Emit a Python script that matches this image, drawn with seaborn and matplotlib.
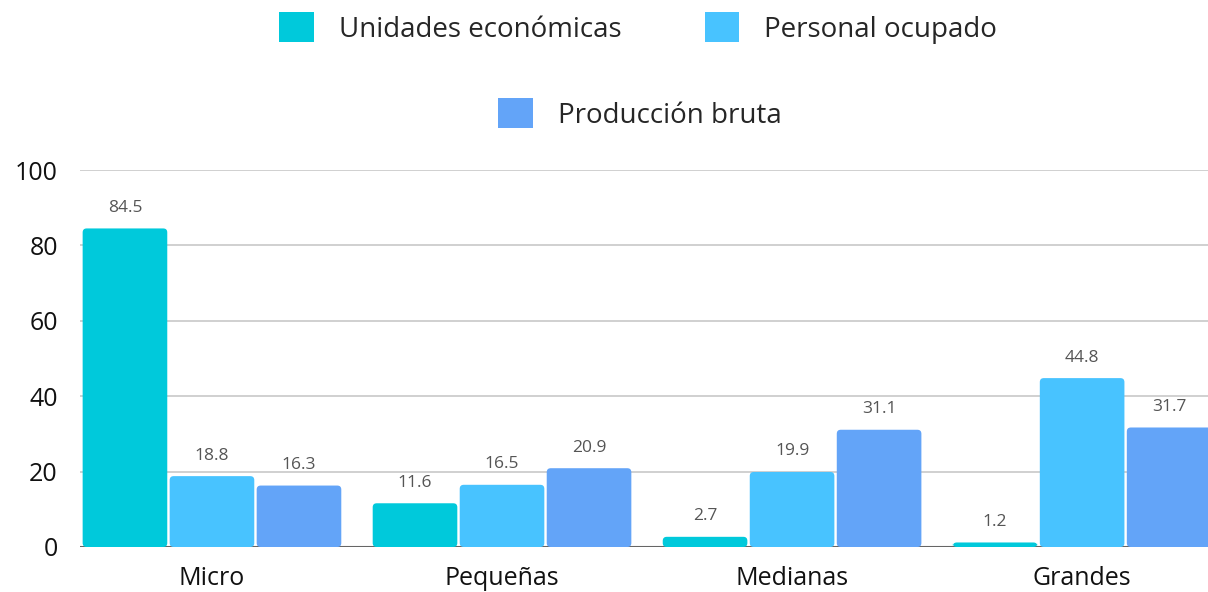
import pandas as pd
import matplotlib.pyplot as plt
import seaborn as sns
from matplotlib.patches import Patch, FancyBboxPatch

# datos
categorias = ["Micro", "Pequeñas", "Medianas", "Grandes"]
series = ["Unidades económicas", "Personal ocupado", "Producción bruta"]
unidades = [84.5, 11.6, 2.7, 1.2]
personal = [18.8, 16.5, 19.9, 44.8]
produccion = [16.3, 20.9, 31.1, 31.7]
colores = ["#00C9DB", "#48C3FF", "#63A4F8"]

df = pd.DataFrame({
    "categoria": categorias * 3,
    "serie": [series[0]] * 4 + [series[1]] * 4 + [series[2]] * 4,
    "valor": unidades + personal + produccion,
})

sns.set_style("white")
plt.rcParams['font.family'] = ['Open Sans', 'DejaVu Sans']

fig = plt.figure(figsize=(12.08, 5.92), dpi=100)
ax = fig.add_axes([80 / 1208, 45 / 592, 1 - 80 / 1208, 377 / 592])

sns.barplot(data=df, x="categoria", y="valor", hue="serie", palette=colores,
            saturation=1, width=0.9, edgecolor="white", linewidth=2.5, ax=ax, legend=False)

ax.set_ylim(0, 100)
ax.set_xlim(-0.455, 3.434)

for c in ax.containers:
    ax.bar_label(c, fmt="%.1f", padding=9, fontsize=12.5, color="#555555")

# esquinas redondeadas
xpx = 3.889 / 1128
ypx = 100 / 377
for p in list(ax.patches):
    x, y, w, h = p.get_x(), p.get_y(), p.get_width(), p.get_height()
    r = FancyBboxPatch((x + 1.2 * xpx, y), w - 2.4 * xpx, h,
                       boxstyle=f"round,pad=0,rounding_size={4 * xpx}",
                       mutation_aspect=ypx / xpx, facecolor=p.get_facecolor(),
                       edgecolor="none", zorder=2)
    p.set_visible(False)
    ax.add_patch(r)

ax.set_yticks([0, 20, 40, 60, 80, 100])
ax.yaxis.grid(True, color="#c8c8c8", linewidth=1.2)
ax.set_axisbelow(True)
ax.axhline(0, color="#666666", linewidth=1.5, zorder=1)
for s in ax.spines.values():
    s.set_visible(False)
ax.set_xlabel("")
ax.set_ylabel("")
ax.tick_params(axis="y", labelsize=18, pad=16, length=0, colors="#111111")
ax.tick_params(axis="x", labelsize=18, pad=14, length=0, colors="#111111")

handles = [Patch(facecolor=col, edgecolor="none") for col in colores]
fig.legend(handles[:2], series[:2], loc="center", bbox_to_anchor=(638 / 1208, 1 - 28 / 592),
           ncol=2, frameon=False, fontsize=20, handlelength=1.25, handleheight=1.25,
           handletextpad=0.9, columnspacing=3.0)
fig.legend(handles[2:], series[2:], loc="center", bbox_to_anchor=(640 / 1208, 1 - 114 / 592),
           frameon=False, fontsize=20, handlelength=1.25, handleheight=1.25, handletextpad=0.9)

fig.savefig("out.png", dpi=100)
